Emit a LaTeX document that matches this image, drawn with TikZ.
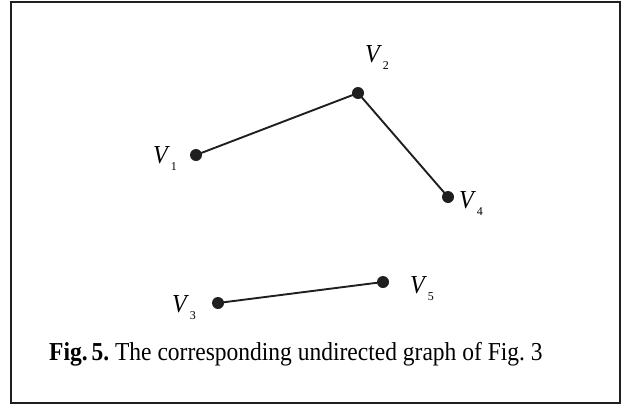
\documentclass[tikz,border=0pt]{standalone}
\usepackage{fontspec}
\usepackage{graphicx}
\setmainfont{Liberation Serif}
\frenchspacing
\tikzset{
  vdot/.style={circle,fill=black!88,inner sep=0pt,minimum size=12pt},
  edge/.style={line width=1.9pt,draw=black!88},
  vlab/.style={anchor=base west,inner sep=0pt,font=\fontsize{24}{24}\selectfont},
  captext/.style={anchor=base west,inner sep=0pt,font=\fontsize{23.5}{26}\selectfont},
  frame/.style={line width=2pt,draw=black!88}
}
\newcommand{\vl}[1]{\scalebox{1}[1.08]{\textit{V}}\kern0.8pt\raisebox{-7pt}{\fontsize{12}{12}\selectfont #1}}
\begin{document}
\begin{tikzpicture}[x=1pt,y=-1pt]
\useasboundingbox (0,0) rectangle (627,407);
\draw[frame] (11,1.5) rectangle (619.5,402.5);
\node[vdot] (v1) at (196,155) {};
\node[vdot] (v2) at (358,93) {};
\node[vdot] (v4) at (448,197) {};
\node[vdot] (v3) at (218,303) {};
\node[vdot] (v5) at (383,282) {};
\draw[edge] (v1.center) -- (v2.center) -- (v4.center);
\draw[edge] (v3.center) -- (v5.center);
\node[vlab] (l1) at (153,163.5) {\vl{1}};
\node[vlab] (l2) at (365,62.5) {\vl{2}};
\node[vlab] (l4) at (459,208.5) {\vl{4}};
\node[vlab] (l3) at (172,312) {\vl{3}};
\node[vlab] (l5) at (410,293.5) {\vl{5}};
\node[captext] (c) at (49,360) {\scalebox{1}[1.1]{\textbf{Fig.\,5.} The corresponding undirected graph of Fig. 3}};
\end{tikzpicture}
\end{document}
